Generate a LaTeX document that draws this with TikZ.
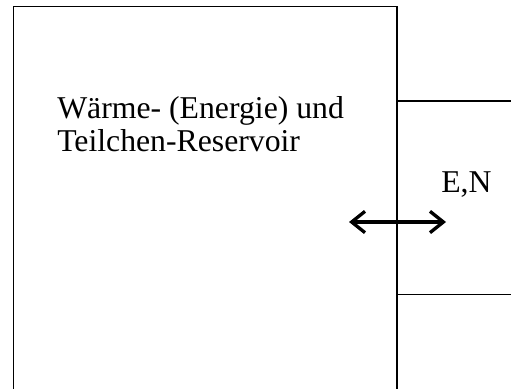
\documentclass[tikz,border=0pt]{standalone}
\usepackage{fontspec}
\setmainfont{Liberation Serif}
\usetikzlibrary{arrows.meta}
\begin{document}
\begin{tikzpicture}[x=0.75pt,y=-0.75pt,
  wall/.style={line width=1.1pt,black},
  flow/.style={line width=2.5pt,{Straight Barb[length=10pt,width=16pt]}-{Straight Barb[length=10pt,width=16pt]}},
  label/.style={font=\fontsize{23.8pt}{25pt}\selectfont,inner sep=0pt,align=left}]
  \useasboundingbox (0,0) rectangle (511,389);
  % reservoir walls (open at the bottom)
  \draw[wall] (13.5,395) -- (13.5,6.5) -- (397,6.5) -- (397,395);
  % system box walls
  \draw[wall] (397,101) -- (515,101);
  \draw[wall] (397,294.5) -- (515,294.5);
  % labels (base anchor sits on the last line)
  \node[label,anchor=base west] (res) at (57,151.5) {Wärme- (Energie) und\\Teilchen-Reservoir};
  \node[label,anchor=base west] (en) at (441,192) {E,N};
  % exchange arrow across the wall
  \coordinate (l) at (349,222);
  \coordinate (r) at (446,222);
  \draw[flow] (l) -- (r);
\end{tikzpicture}
\end{document}
